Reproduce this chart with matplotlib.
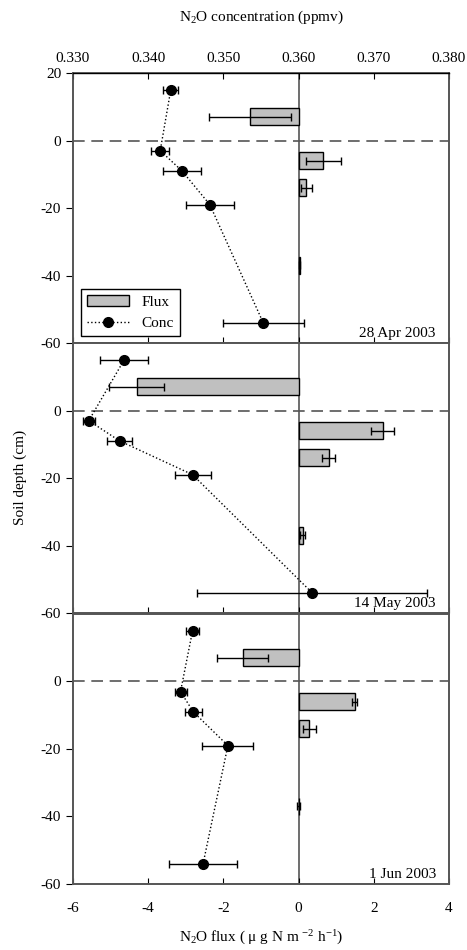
import matplotlib
matplotlib.use('Agg')
import matplotlib.pyplot as plt
from matplotlib.patches import Patch
from matplotlib.lines import Line2D

# Fuente tipo Times para todo el grafico
plt.rcParams['font.family'] = ['Liberation Serif', 'DejaVu Serif']
plt.rcParams['mathtext.fontset'] = 'custom'
plt.rcParams['mathtext.rm'] = 'Liberation Serif'
plt.rcParams['mathtext.it'] = 'Liberation Serif:italic'
plt.rcParams['axes.unicode_minus'] = False
plt.rcParams['font.size'] = 11

# ---------------------------- Datos ----------------------------
fechas = ['28 Apr 2003', '14 May 2003', '1 Jun 2003']
prof_conc = [15, -3, -9, -19, -54]      # profundidad de los puntos de concentracion (cm)
prof_flux = [7, -6, -14, -37]           # profundidad de las barras de flujo (cm)

conc_abr = [0.3430, 0.3416, 0.3445, 0.3482, 0.3553]
conc_abr_err = [0.0010, 0.0012, 0.0025, 0.0032, 0.0054]
conc_may = [0.3368, 0.3321, 0.3362, 0.3459, 0.3618]
conc_may_err = [0.0032, 0.0008, 0.0017, 0.0024, 0.0153]
conc_jun = [0.3459, 0.3443, 0.3460, 0.3506, 0.3473]
conc_jun_err = [0.0009, 0.0008, 0.0011, 0.0034, 0.0045]

flux_abr = [-1.29, 0.66, 0.21, 0.03]
flux_abr_err = [1.10, 0.47, 0.15, 0.02]
flux_may = [-4.31, 2.24, 0.80, 0.11]
flux_may_err = [0.74, 0.31, 0.17, 0.07]
flux_jun = [-1.49, 1.49, 0.29, 0.00]
flux_jun_err = [0.68, 0.07, 0.17, 0.03]

concs = [conc_abr, conc_may, conc_jun]
concs_err = [conc_abr_err, conc_may_err, conc_jun_err]
fluxes = [flux_abr, flux_may, flux_jun]
fluxes_err = [flux_abr_err, flux_may_err, flux_jun_err]

gris = '#555555'

fig = plt.figure(figsize=(4.67, 9.5), dpi=100)
bottoms = [0.6389, 0.3547, 0.0695]

for i in range(3):
    ax = fig.add_axes([0.1563, bottoms[i], 0.8051, 0.2842])
    # barras de flujo
    ax.barh(prof_flux, fluxes[i], height=5, color='#c0c0c0', edgecolor='black',
            linewidth=1, xerr=fluxes_err[i],
            error_kw=dict(ecolor='black', elinewidth=1, capsize=3, capthick=1), zorder=3)
    ax.axvline(0, color=gris, lw=1.2, zorder=1)
    ax.axhline(0, color=gris, lw=1.2, ls=(0, (7, 4)), zorder=1)
    ax.set_xlim(-6, 4)
    ax.set_ylim(-60, 20)
    ax.set_xticks([-6, -4, -2, 0, 2, 4])
    if i == 0:
        ax.set_yticks([20, 0, -20, -40, -60])
    else:
        ax.set_yticks([0, -20, -40, -60])
    ax.tick_params(axis='y', direction='out', length=5, right=False)
    ax.tick_params(axis='x', direction='in', length=4, top=False, pad=13)
    if i < 2:
        ax.tick_params(axis='x', labelbottom=False)
    else:
        ax.set_xlabel('N$_2$O flux ( μ g N m $^{-2}$ h$^{-1}$)', labelpad=10)

    # eje superior de concentracion
    ax2 = ax.twiny()
    ax2.plot(concs[i], prof_conc, ls=':', color='black', lw=1, zorder=2)
    ax2.errorbar(concs[i], prof_conc, xerr=concs_err[i], fmt='o', ls='none',
                 color='black', ms=7, elinewidth=1, capsize=3, capthick=1, zorder=4)
    ax2.set_xlim(0.330, 0.380)
    if i == 0:
        ax2.set_xticks([0.330, 0.340, 0.350, 0.360, 0.370, 0.380])
        ax2.set_xticklabels(['0.330', '0.340', '0.350', '0.360', '0.370', '0.380'])
        ax2.tick_params(axis='x', direction='in', length=4, pad=6)
        ax2.set_xlabel('N$_2$O concentration (ppmv)', labelpad=22)
        ax2.legend([Patch(facecolor='#c0c0c0', edgecolor='black'),
                    Line2D([], [], color='black', ls=':', lw=1, marker='o', ms=7)],
                   ['Flux', 'Conc'], loc='lower left', bbox_to_anchor=(0.02, 0.025),
                   borderaxespad=0, fancybox=False, edgecolor='black', framealpha=1,
                   handlelength=2.8, fontsize=11)
    else:
        ax2.set_xticks([])

    for a in (ax, ax2):
        for s in a.spines.values():
            s.set_color(gris)
            s.set_linewidth(1.2)
    if i == 0:
        ax2.spines['top'].set_color('black')
        ax2.spines['top'].set_linewidth(1)

    ax.text(0.965, 0.012, fechas[i], transform=ax.transAxes, ha='right', va='bottom',
            fontsize=11)

fig.text(0.043, 0.497, 'Soil depth (cm)', rotation=90, ha='center', va='center')

fig.savefig('out.png', dpi=100)
